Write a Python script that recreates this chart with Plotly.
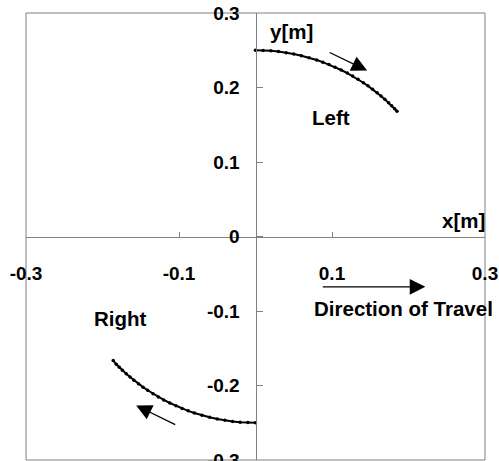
import plotly.graph_objects as go

# Left trajectory (x, y in metres)
left_x = [0.000, 0.010, 0.020, 0.030, 0.040, 0.050, 0.060, 0.070, 0.080, 0.088,
          0.096, 0.104, 0.112, 0.120, 0.127, 0.134, 0.141, 0.147, 0.153, 0.159,
          0.164, 0.169, 0.174, 0.178, 0.182, 0.185]
left_y = [0.2500, 0.2498, 0.2492, 0.2482, 0.2468, 0.2449, 0.2427, 0.2400, 0.2369, 0.2340,
          0.2308, 0.2273, 0.2235, 0.2193, 0.2153, 0.2111, 0.2064, 0.2022, 0.1977, 0.1929,
          0.1887, 0.1842, 0.1795, 0.1755, 0.1714, 0.1682]
# Right trajectory
right_x = [-0.000, -0.010, -0.020, -0.030, -0.040, -0.050, -0.060, -0.070, -0.080, -0.088,
           -0.096, -0.104, -0.112, -0.120, -0.127, -0.134, -0.141, -0.147, -0.153, -0.159,
           -0.164, -0.169, -0.174, -0.178, -0.182, -0.186]
right_y = [-0.2500, -0.2498, -0.2492, -0.2482, -0.2468, -0.2449, -0.2427, -0.2400, -0.2369, -0.2340,
           -0.2308, -0.2273, -0.2235, -0.2193, -0.2153, -0.2111, -0.2064, -0.2022, -0.1977, -0.1929,
           -0.1887, -0.1842, -0.1795, -0.1755, -0.1714, -0.1666]

x_ticks = [-0.3, -0.1, 0.1, 0.3]
x_ticklabels = ["-0.3", "-0.1", "0.1", "0.3"]
y_ticks = [-0.3, -0.2, -0.1, 0.0, 0.1, 0.2, 0.3]
y_ticklabels = ["-0.3", "-0.2", "-0.1", "0", "0.1", "0.2", "0.3"]

# arrows: (tail_x, tail_y, head_x, head_y)
arrow_left = (0.095, 0.248, 0.146, 0.2227)
arrow_right = (-0.103, -0.2535, -0.156, -0.2268)
arrow_travel = (0.086, -0.0676, 0.222, -0.0676)

FONT = "Liberation Sans, Arial, sans-serif"
GRAY = "#808080"

fig = go.Figure()
for xs, ys in [(left_x, left_y), (right_x, right_y)]:
    fig.add_trace(go.Scatter(
        x=xs, y=ys, mode="lines+markers",
        line=dict(color="black", width=2),
        marker=dict(color="black", size=3.5, symbol="circle"),
        showlegend=False, hoverinfo="skip"))

fig.update_layout(
    width=499, height=461,
    margin=dict(l=26, r=14, t=13, b=1, autoexpand=False),
    paper_bgcolor="white", plot_bgcolor="white",
    font=dict(family=FONT, color="black", size=19),
    xaxis=dict(range=[-0.3, 0.3], tickvals=x_ticks, ticktext=x_ticklabels,
               showgrid=False, zeroline=False, showline=True, linecolor=GRAY, linewidth=1,
               ticks="inside", ticklen=5, tickcolor=GRAY, automargin=False,
               anchor="free", position=0.5, ticklabelstandoff=20,
               ticklabeloverflow="allow",
               tickfont=dict(family=FONT, size=19, weight="bold", color="black")),
    yaxis=dict(range=[-0.3, 0.3], tickvals=y_ticks, ticktext=y_ticklabels,
               showgrid=False, zeroline=False, showline=True, linecolor=GRAY, linewidth=1,
               ticks="inside", ticklen=6, tickcolor=GRAY, automargin=False,
               anchor="free", position=0.5, ticklabelstandoff=12,
               ticklabeloverflow="allow",
               tickfont=dict(family=FONT, size=19, weight="bold", color="black")),
)

fig.add_shape(type="rect", xref="paper", yref="paper", x0=0, y0=0, x1=1, y1=1,
              line=dict(color=GRAY, width=1), layer="below")

texts = [("y[m]", 0.0477, 0.275), ("x[m]", 0.2725, 0.022), ("Left", 0.0987, 0.160),
         ("Right", -0.176, -0.110), ("Direction of Travel", 0.193, -0.097)]
for t, x, y in texts:
    fig.add_annotation(x=x, y=y, xref="x", yref="y", text="<b>%s</b>" % t,
                       showarrow=False, font=dict(family=FONT, size=20.5, color="black"))

for tx, ty, hx, hy in [arrow_left, arrow_right, arrow_travel]:
    fig.add_annotation(x=hx, y=hy, ax=tx, ay=ty, xref="x", yref="y", axref="x", ayref="y",
                       text="", showarrow=True, arrowhead=2, arrowsize=2.4, arrowwidth=1.3,
                       arrowcolor="black", standoff=0, startstandoff=0)

fig.write_html("out.html", config={"displayModeBar": False},
               post_script="document.body.style.margin='0px';document.body.style.overflow='hidden';")
